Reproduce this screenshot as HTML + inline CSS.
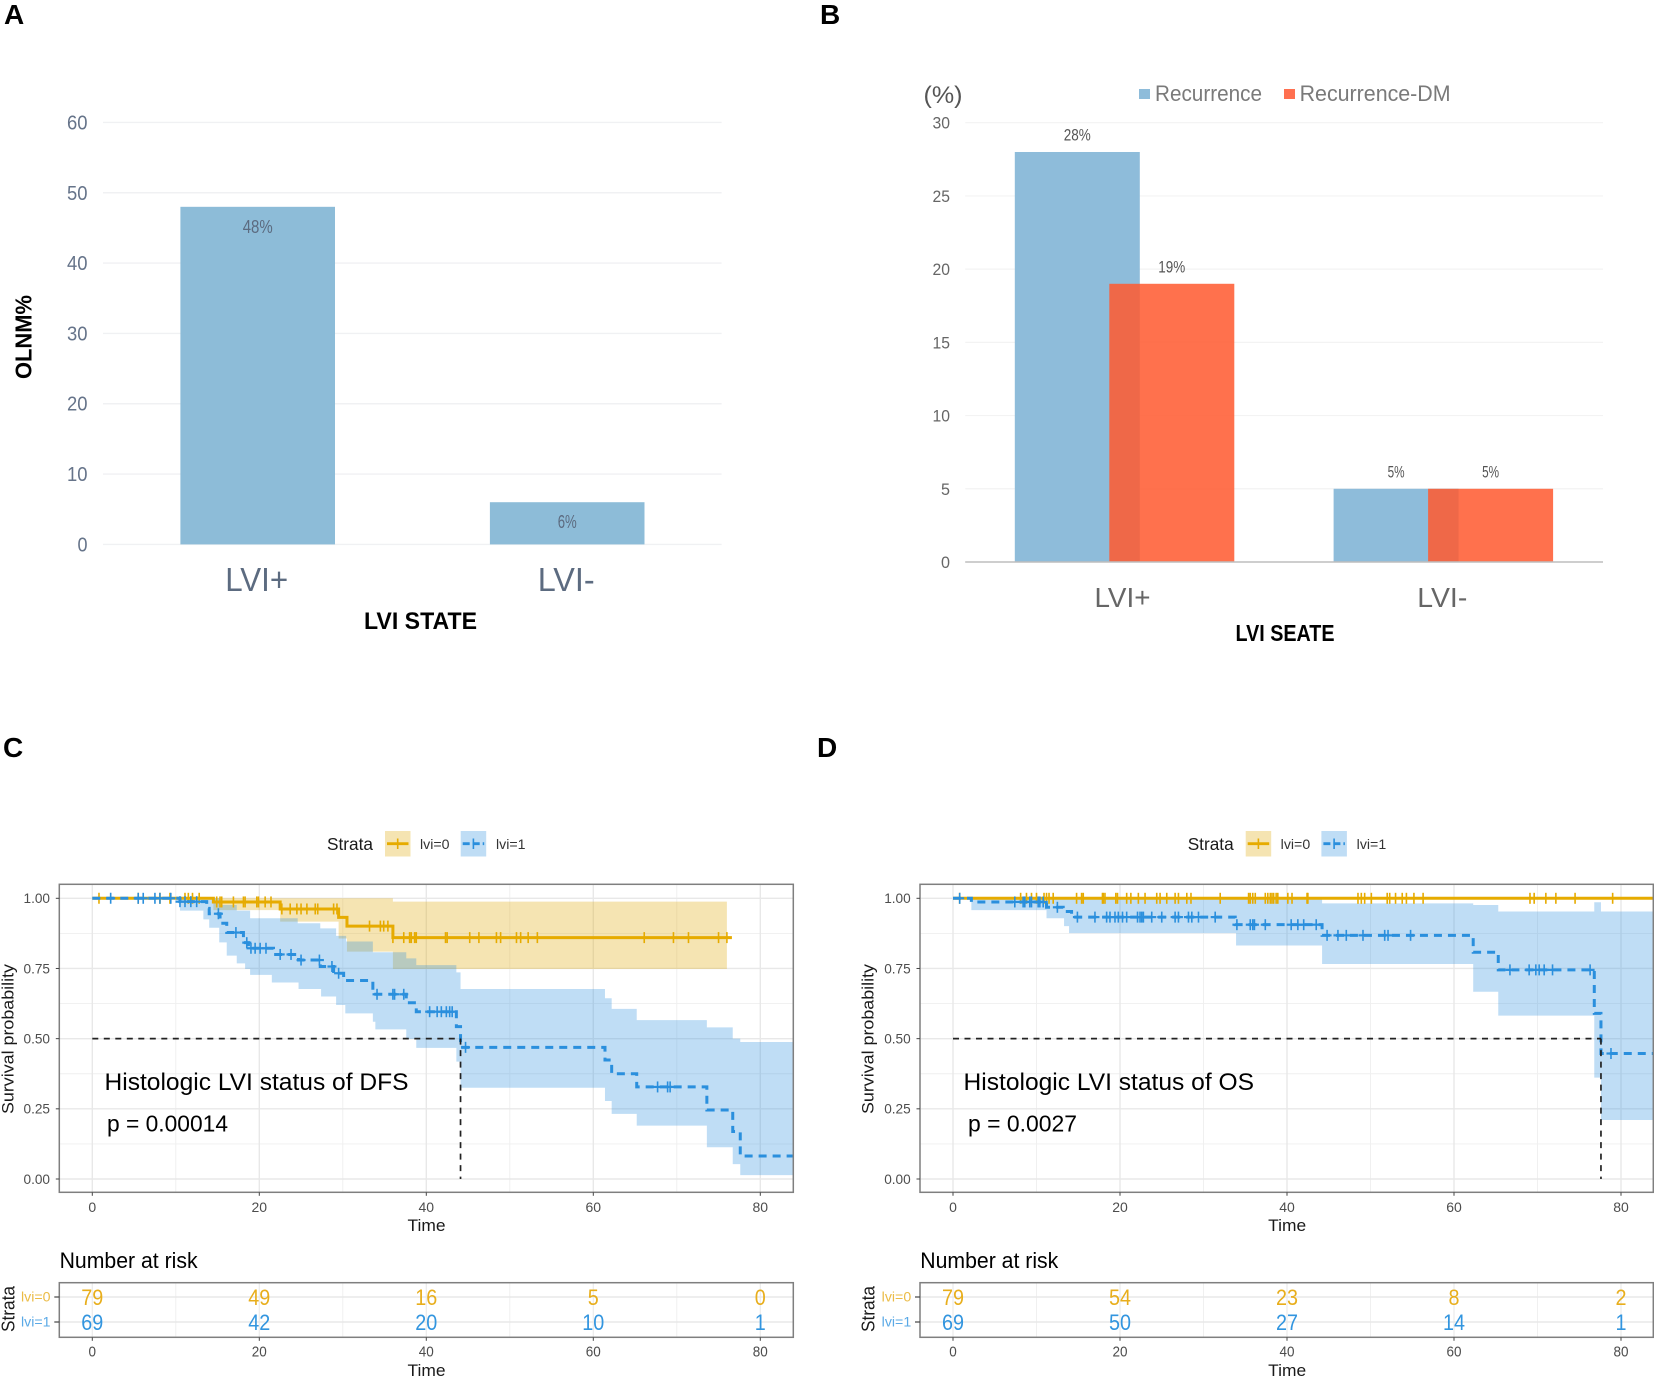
<!DOCTYPE html>
<html lang="en">
<head>
<meta charset="utf-8">
<title>LVI status charts</title>
<style>
html,body{margin:0;padding:0;background:#fff;}
svg{display:block;font-family:"Liberation Sans",Arial,sans-serif;}
</style>
</head>
<body>
<svg id="figure" xmlns="http://www.w3.org/2000/svg" width="1654" height="1377" viewBox="0 0 1654 1377">
<rect width="1654" height="1377" fill="#fff"/>
<defs>
<clipPath id="clip-c"><rect x="59.3" y="884.3" width="734" height="308"/></clipPath>
<clipPath id="clip-d"><rect x="920" y="884.3" width="733.3" height="308"/></clipPath>
</defs>
</svg>
<script>
// ---- Panel A data
const aCategories = ['LVI+', 'LVI-'];
const aValues = [48, 6];
const aTicks = [0, 10, 20, 30, 40, 50, 60];

// ---- Panel B data
const bCategories = ['LVI+', 'LVI-'];
const bRecurrence = [28, 5];
const bRecurrenceDM = [19, 5];
const bTicks = [0, 5, 10, 15, 20, 25, 30];

// ---- Survival axes
const kmTimeTicks = [0, 20, 40, 60, 80];
const kmTimeMinor = [10, 30, 50, 70];
const kmProbTicks = [0, 0.25, 0.5, 0.75, 1];
const kmProbMinor = [0.125, 0.375, 0.625, 0.875];
const riskTimes = [0, 20, 40, 60, 80];

// ---- Panel C (DFS) lvi=0
const cTime0 = [0, 14.5, 22.5, 29.5, 30.5, 36];
const cSurv0 = [1, 0.987, 0.962, 0.932, 0.901, 0.860];
const cEnd0 = 76.6;
const cUpTime0 = [0, 36];
const cUpVal0 = [1, 0.988];
const cLowTime0 = [0, 14.5, 22.5, 29.5, 30.5, 36];
const cLowVal0 = [1, 0.958, 0.917, 0.857, 0.81, 0.748];
const cRibbonEnd0 = 76;
const cCensor0 = [0.8, 5.5, 8.1, 9.3, 11.1, 11.5, 12, 12.8, 14.9, 15.3, 15.5, 16.9, 18.1, 18.3, 19.7, 19.9, 20.7, 21.4, 22.7, 23.7, 24.5, 25, 25.7, 26.7, 27, 28.9, 29.3, 33.2, 34.5, 34.9, 35.4, 36, 37.3, 38, 38.2, 38.6, 38.8, 42.3, 42.5, 45.2, 46.3, 48.4, 48.9, 50.8, 51.3, 52.2, 53.3, 66.1, 69.6, 71.4, 75, 76];

// ---- Panel C (DFS) lvi=1
const cTime1 = [0, 10.5, 13.7, 14, 15.3, 16.1, 18.1, 18.7, 21.7, 24.7, 27.3, 28.9, 30.1, 33.6, 37.6, 38.8, 43.6, 44.1, 61.4, 62.2, 65.2, 73.6, 76.7, 77.6];
const cSurv1 = [1, 0.988, 0.964, 0.945, 0.911, 0.878, 0.842, 0.822, 0.80, 0.78, 0.757, 0.733, 0.707, 0.658, 0.628, 0.596, 0.543, 0.469, 0.424, 0.375, 0.328, 0.246, 0.169, 0.082];
const cUpTime1 = [0, 15.3, 17.3, 18.9, 24.6, 27.3, 29.2, 30.4, 33.6, 37.6, 38.8, 43.6, 44.1, 61.4, 62.2, 65.2, 73.6, 76.7, 77.6];
const cUpVal1 = [1, 0.976, 0.956, 0.929, 0.911, 0.893, 0.866, 0.846, 0.808, 0.786, 0.762, 0.736, 0.677, 0.644, 0.606, 0.566, 0.54, 0.50, 0.488];
const cLowTime1 = [0, 10.5, 13.3, 14, 15.2, 16.1, 17.3, 18.3, 18.9, 21.5, 24.7, 27.4, 29.2, 30.3, 33.6, 33.9, 37.6, 38.8, 43.6, 44.1, 61.4, 62.2, 65.2, 73.6, 76.7, 77.6];
const cLowVal1 = [1, 0.956, 0.925, 0.895, 0.843, 0.796, 0.768, 0.748, 0.727, 0.70, 0.677, 0.65, 0.62, 0.59, 0.56, 0.533, 0.499, 0.467, 0.418, 0.325, 0.278, 0.232, 0.19, 0.113, 0.053, 0.014];
const cCensor1 = [2.2, 5.5, 6.1, 7.5, 8.1, 9.4, 10.5, 11.1, 11.8, 12.5, 15.1, 17.2, 18.5, 19, 19.5, 20.1, 20.8, 22.5, 23.8, 25, 27.2, 28.7, 29.5, 34.1, 36, 36.2, 37.3, 40.4, 41.3, 41.8, 42.4, 42.8, 43.1, 44.7, 67.7, 68.9, 69.2];
const cMedian = 44.1;
const cRisk0 = [79, 49, 16, 5, 0];
const cRisk1 = [69, 42, 20, 10, 1];

// ---- Panel D (OS) lvi=0
const dTime0 = [0];
const dSurv0 = [1];
const dEnd0 = 84;
const dCensor0 = [0.8, 8.1, 8.8, 9.4, 10, 10.9, 11.2, 11.5, 12, 14.8, 15.4, 15.6, 17.9, 18, 18.2, 19.5, 19.7, 20.8, 21.3, 22.2, 23, 24.4, 24.8, 25.6, 26.6, 27, 28, 28.5, 32, 35.4, 35.6, 35.9, 36.2, 37.4, 37.7, 38, 38.2, 38.4, 38.7, 38.9, 40.1, 40.6, 42.4, 42.5, 48.5, 48.9, 49.3, 50.1, 52, 52.3, 53, 53.8, 54.3, 55.2, 56.3, 69.1, 69.6, 71, 72.2, 74.5, 79];

// ---- Panel D (OS) lvi=1
const dTime1 = [0, 2.2, 11.2, 13.2, 14.2, 33.8, 44.2, 62.3, 65.3, 76.8, 77.6];
const dSurv1 = [1, 0.987, 0.968, 0.953, 0.933, 0.906, 0.868, 0.808, 0.745, 0.59, 0.447];
const dUpTime1 = [0, 44.2, 62.3, 65.3, 76.8, 77.6];
const dUpVal1 = [1, 0.982, 0.976, 0.953, 0.986, 0.953];
const dLowTime1 = [0, 2.2, 11.2, 13.3, 13.9, 33.9, 44.2, 62.3, 65.3, 76.8, 77.6];
const dLowVal1 = [1, 0.958, 0.929, 0.901, 0.876, 0.832, 0.766, 0.667, 0.582, 0.361, 0.21];
const dCensor1 = [0.8, 7.4, 8.4, 8.6, 9.2, 9.4, 10.2, 10.4, 10.8, 12.5, 14.9, 17, 18.4, 18.8, 19.4, 19.8, 20.3, 20.8, 22.1, 22.4, 22.6, 22.8, 23.8, 25, 26.6, 27, 28.2, 28.6, 29.4, 31.4, 34, 35.6, 35.9, 36.1, 37.4, 40.5, 41.3, 42, 43.5, 44.8, 46.1, 47.1, 49.1, 51.7, 52.1, 54.8, 66.7, 69, 69.8, 70.2, 70.8, 71.8, 76.3, 78.8];
const dMedian = 77.6;
const dRisk0 = [79, 54, 23, 8, 2];
const dRisk1 = [69, 50, 27, 14, 1];

const NS = 'http://www.w3.org/2000/svg';
const svg = document.getElementById('figure');
const ORANGE = '#E6AB00', BLUE = '#2A8FDD';

function shape(parent, tag, attrs, name) {
  const el = document.createElementNS(NS, tag);
  for (const k in attrs) el.setAttribute(k, attrs[k]);
  
  
  parent.appendChild(el);
  return el;
}
function group(parent, name, extra) {
  return shape(parent, 'g', extra || {}, name);
}
function label(parent, str, x, y, o, name) {
  const attrs = {x: x, y: y, 'font-size': o.size, fill: o.fill || '#000', 'text-anchor': o.anchor || 'middle'};
  if (o.weight) attrs['font-weight'] = o.weight;
  if (o.width) { attrs.textLength = o.width; attrs.lengthAdjust = 'spacingAndGlyphs'; }
  if (o.rotate) attrs.transform = 'rotate(' + o.rotate + ' ' + x + ' ' + y + ')';
  const el = shape(parent, 'text', attrs, name);
  el.textContent = str;
  return el;
}
function hLine(parent, x1, x2, y, stroke, w, name, dash) {
  const a = {x1: x1, x2: x2, y1: y, y2: y, stroke: stroke, 'stroke-width': w};
  if (dash) a['stroke-dasharray'] = dash;
  return shape(parent, 'line', a, name);
}
function vLine(parent, x, y1, y2, stroke, w, name, dash) {
  const a = {x1: x, x2: x, y1: y1, y2: y2, stroke: stroke, 'stroke-width': w};
  if (dash) a['stroke-dasharray'] = dash;
  return shape(parent, 'line', a, name);
}

// Panel letters
label(svg, 'A', 4, 24, {size: 28, weight: 'bold', anchor: 'start'}, 'panel-label-a');
label(svg, 'B', 820, 24, {size: 28, weight: 'bold', anchor: 'start'}, 'panel-label-b');
label(svg, 'C', 3, 757, {size: 28, weight: 'bold', anchor: 'start'}, 'panel-label-c');
label(svg, 'D', 817, 757, {size: 28, weight: 'bold', anchor: 'start'}, 'panel-label-d');

// ===== Panel A =====
(function () {
  const g = group(svg, 'panel-a-bar-chart');
  const yA = v => 544.4 - v * 7.033;
  const band = 309.5, x0 = 103, barW = 154.6;
  const slate = '#5c6b80';
  aTicks.forEach(t => {
    hLine(g, 103, 721.6, yA(t), '#f0f1f3', 1.4, 'y-gridline-' + t);
    label(g, String(t), 87.5, yA(t) + 7, {size: 20, fill: '#66748a', anchor: 'end', width: t === 0 ? 10 : 20.5}, 'y-tick-label-' + t);
  });
  aCategories.forEach((c, i) => {
    const cx = x0 + 154.7 + i * band;
    shape(g, 'rect', {x: cx - barW / 2, y: yA(aValues[i]), width: barW, height: yA(0) - yA(aValues[i]), fill: '#8dbcd8'}, 'bar-' + (i === 0 ? 'lvi-positive' : 'lvi-negative'));
    label(g, aValues[i] + '%', cx, yA(aValues[i]) + 26, {size: 18, fill: slate, width: i === 0 ? 30 : 19}, 'bar-value-label-' + i);
    label(g, c, cx - 1, 591, {size: 33, fill: slate, width: i === 0 ? 63 : 57}, 'x-category-label-' + i);
  });
  label(g, 'LVI STATE', 420.5, 629, {size: 24, weight: 'bold', width: 113}, 'x-axis-title');
  label(g, 'OLNM%', 31.5, 337, {size: 23, weight: 'bold', width: 84, rotate: -90}, 'y-axis-title');
})();

// ===== Panel B =====
(function () {
  const g = group(svg, 'panel-b-bar-chart');
  const yB = v => 562 - v * 14.643;
  const barW = 125, centers = [1124.5, 1443.3];
  bTicks.forEach(t => {
    if (t > 0) hLine(g, 965.2, 1603, yB(t), '#f3f3f3', 1.2, 'y-gridline-' + t);
    label(g, String(t), 950, yB(t) + 6, {size: 17, fill: '#666', anchor: 'end', width: t < 10 ? 9 : 17.5}, 'y-tick-label-' + t);
  });
  bCategories.forEach((c, i) => {
    const cx = centers[i];
    const b1 = cx - 109.7, b2 = cx - 15.2;
    shape(g, 'rect', {x: b1, y: yB(bRecurrence[i]), width: barW, height: yB(0) - yB(bRecurrence[i]), fill: '#8ebcda'}, 'bar-recurrence-' + i);
    shape(g, 'rect', {x: b2, y: yB(bRecurrenceDM[i]), width: barW, height: yB(0) - yB(bRecurrenceDM[i]), fill: '#ff5a30', opacity: 0.86}, 'bar-recurrence-dm-' + i);
    label(g, bRecurrence[i] + '%', b1 + barW / 2, yB(bRecurrence[i]) - 11.5, {size: 16.5, fill: '#555', width: bRecurrence[i] < 10 ? 17 : 27}, 'value-label-recurrence-' + i);
    label(g, bRecurrenceDM[i] + '%', b2 + barW / 2, yB(bRecurrenceDM[i]) - 11.5, {size: 16.5, fill: '#555', width: bRecurrenceDM[i] < 10 ? 17 : 27}, 'value-label-recurrence-dm-' + i);
    label(g, c, cx - (i === 0 ? 2 : 1), 607, {size: 28, fill: '#666', width: i === 0 ? 56 : 50}, 'x-category-label-' + i);
  });
  hLine(g, 965.2, 1603, yB(0), '#bdbdbd', 1.5, 'x-axis-line');
  label(g, 'LVI SEATE', 1285, 641, {size: 23, weight: 'bold', width: 99}, 'x-axis-title');
  label(g, '(%)', 943, 103, {size: 24, fill: '#555', width: 39}, 'y-axis-unit');
  const lg = group(g, 'legend');
  shape(lg, 'rect', {x: 1139, y: 89, width: 11, height: 10, fill: '#8ebcda'}, 'legend-swatch-recurrence');
  label(lg, 'Recurrence', 1155, 101, {size: 22, fill: '#7a7a7a', anchor: 'start', width: 107}, 'legend-label-recurrence');
  shape(lg, 'rect', {x: 1284, y: 89, width: 11, height: 10, fill: '#ff7050'}, 'legend-swatch-recurrence-dm');
  label(lg, 'Recurrence-DM', 1299.6, 101, {size: 22, fill: '#7a7a7a', anchor: 'start', width: 151}, 'legend-label-recurrence-dm');
})();

// ===== Survival panels =====
function stepPath(times, vals, end, xs, ys) {
  let d = 'M' + xs(times[0]) + ' ' + ys(vals[0]);
  for (let i = 1; i < times.length; i++) {
    d += 'H' + xs(times[i]) + 'V' + ys(vals[i]);
  }
  return d + 'H' + xs(end);
}
function ribbonPath(upT, upV, lowT, lowV, end, xs, ys) {
  let d = stepPath(upT, upV, end, xs, ys);
  d += 'V' + ys(lowV[lowV.length - 1]);
  for (let i = lowT.length - 1; i > 0; i--) {
    d += 'H' + xs(lowT[i]) + 'V' + ys(lowV[i - 1]);
  }
  return d + 'H' + xs(lowT[0]) + 'Z';
}
function stepValue(times, vals, t) {
  let v = vals[0];
  for (let i = 0; i < times.length; i++) { if (times[i] <= t) v = vals[i]; }
  return v;
}
function drawSurvival(cfg) {
  const ox = cfg.ox;
  const xs = t => ox + 92.3 + t * 8.35;
  const ys = s => 1179 - s * 280.7;
  const left = ox + 59.3, right = cfg.right, top = 884.3, bottom = 1192.3;
  const g = group(svg, cfg.name);

  // Legend
  const lg = group(g, 'legend');
  label(lg, 'Strata', ox + 327, 850, {size: 17.5, fill: '#1a1a1a', anchor: 'start', width: 46}, 'legend-title');
  const keyX = [ox + 385, ox + 460.7], keyCol = [ORANGE, BLUE], keyFill = ['#DDA500', '#2A8FDD'], keyTxt = ['lvi=0', 'lvi=1'], keyLab = [ox + 420, ox + 496];
  keyX.forEach((kx, i) => {
    shape(lg, 'rect', {x: kx, y: 831, width: 25.5, height: 25.5, fill: keyFill[i], 'fill-opacity': 0.3}, 'legend-key-' + i);
    hLine(lg, kx + 2, kx + 23.5, 843.7, keyCol[i], 2.8, 'legend-key-line-' + i, i ? '7 3' : '');
    vLine(lg, kx + 12.7, 838.5, 849, keyCol[i], 1.6, 'legend-key-censor-' + i);
    label(lg, keyTxt[i], keyLab[i], 848.8, {size: 13.5, fill: '#333', anchor: 'start', width: 29.5}, 'legend-label-' + i);
  });

  // Grid
  shape(g, 'rect', {x: left, y: top, width: right - left, height: bottom - top, fill: '#fff'}, 'plot-background');
  const grid = group(g, 'grid');
  kmTimeMinor.forEach(t => vLine(grid, xs(t), top, bottom, '#efefef', 0.9, 'x-minor-gridline-' + t));
  kmProbMinor.forEach(p => hLine(grid, left, right, ys(p), '#efefef', 0.9, 'y-minor-gridline-' + p));
  kmTimeTicks.forEach(t => vLine(grid, xs(t), top, bottom, '#e8e8e8', 1.4, 'x-gridline-' + t));
  kmProbTicks.forEach(p => hLine(grid, left, right, ys(p), '#e8e8e8', 1.4, 'y-gridline-' + p));

  // Data
  const data = group(g, 'survival-curves', {'clip-path': 'url(#' + cfg.clip + ')'});
  if (cfg.upT0) {
    shape(data, 'path', {d: ribbonPath(cfg.upT0, cfg.upV0, cfg.lowT0, cfg.lowV0, cfg.ribbonEnd0, xs, ys), fill: '#DDA500', 'fill-opacity': 0.3}, 'confidence-band-lvi-0');
  }
  shape(data, 'path', {d: ribbonPath(cfg.upT1, cfg.upV1, cfg.lowT1, cfg.lowV1, 84, xs, ys), fill: '#2A8FDD', 'fill-opacity': 0.3}, 'confidence-band-lvi-1');
  shape(data, 'path', {d: stepPath(cfg.t0, cfg.s0, cfg.end0, xs, ys), fill: 'none', stroke: ORANGE, 'stroke-width': 3}, 'survival-line-lvi-0');
  cfg.c0.forEach(t => {
    const y = ys(stepValue(cfg.t0, cfg.s0, t));
    vLine(data, xs(t), y - 5.5, y + 5.5, ORANGE, 1.6, 'censor-mark-lvi-0');
  });
  shape(data, 'path', {d: stepPath(cfg.t1, cfg.s1, 84, xs, ys), fill: 'none', stroke: BLUE, 'stroke-width': 3, 'stroke-dasharray': '8 6'}, 'survival-line-lvi-1');
  cfg.c1.forEach(t => {
    const y = ys(stepValue(cfg.t1, cfg.s1, t));
    vLine(data, xs(t), y - 5.5, y + 5.5, BLUE, 1.6, 'censor-mark-lvi-1');
    hLine(data, xs(t) - 4.5, xs(t) + 4.5, y, BLUE, 2.2, 'censor-bar-lvi-1');
  });
  hLine(data, xs(0), xs(cfg.median), ys(0.5), '#222', 1.7, 'median-horizontal-line', '6 5.5');
  vLine(data, xs(cfg.median), ys(0.5), ys(0), '#222', 1.7, 'median-vertical-line', '6 5.5');

  shape(g, 'rect', {x: left, y: top, width: right - left, height: bottom - top, fill: 'none', stroke: '#7f7f7f', 'stroke-width': 1.5}, 'plot-border');

  // Axes
  kmProbTicks.forEach(p => {
    hLine(g, left - 3.5, left, ys(p), '#444', 1, 'y-tick-' + p);
    label(g, p.toFixed(2), ox + 50, ys(p) + 4.8, {size: 14, fill: '#4d4d4d', anchor: 'end', width: 26.5}, 'y-tick-label-' + p);
  });
  kmTimeTicks.forEach(t => {
    vLine(g, xs(t), bottom, bottom + 3.5, '#444', 1, 'x-tick-' + t);
    label(g, String(t), xs(t), 1212, {size: 14, fill: '#4d4d4d'}, 'x-tick-label-' + t);
  });
  label(g, 'Time', ox + 426.5, 1231, {size: 17, fill: '#1a1a1a', width: 38}, 'x-axis-title');
  label(g, 'Survival probability', cfg.yTitleX, 1039, {size: 17, fill: '#1a1a1a', width: 150, rotate: -90}, 'y-axis-title');

  // Annotations
  label(g, cfg.title, cfg.titleX, 1090, {size: 24, fill: '#000', anchor: 'start', width: cfg.titleW}, 'chart-annotation-title');
  label(g, cfg.pText, cfg.pX, 1131.5, {size: 23, fill: '#000', anchor: 'start', width: cfg.pW}, 'p-value-annotation');

  // Risk table
  const rt = group(g, 'risk-table');
  const rTop = 1282.7, rBottom = 1337.3, rowY = [1297, 1322];
  label(rt, 'Number at risk', ox + 59.6, 1268, {size: 22, fill: '#000', anchor: 'start', width: 138}, 'risk-table-title');
  shape(rt, 'rect', {x: left, y: rTop, width: right - left, height: rBottom - rTop, fill: '#fff'}, 'risk-table-background');
  kmTimeMinor.forEach(t => vLine(rt, xs(t), rTop, rBottom, '#efefef', 0.9, 'risk-minor-gridline-' + t));
  kmTimeTicks.forEach(t => vLine(rt, xs(t), rTop, rBottom, '#ebebeb', 1.2, 'risk-gridline-' + t));
  rowY.forEach((y, i) => hLine(rt, left, right, y, '#e8e8e8', 1.4, 'risk-row-gridline-' + i));
  shape(rt, 'rect', {x: left, y: rTop, width: right - left, height: rBottom - rTop, fill: 'none', stroke: '#7f7f7f', 'stroke-width': 1.5}, 'risk-table-border');
  const rowCounts = [cfg.r0, cfg.r1], rowCol = ['#E8AE1C', '#3295DF'], rowLab = ['lvi=0', 'lvi=1'];
  rowY.forEach((y, i) => {
    hLine(rt, left - 5, left, y, '#444', 1.2, 'risk-row-tick-' + i);
    label(rt, rowLab[i], ox + 50.5, y + 4.5, {size: 13.5, fill: i ? '#5aa9e6' : '#EBBB45', anchor: 'end', width: 29.5}, 'risk-row-label-' + i);
    rowCounts[i].forEach((n, j) => {
      label(rt, String(n), xs(riskTimes[j]), y + 7.8, {size: 22, fill: rowCol[i], width: n < 10 ? 11 : 22}, 'risk-count-' + i + '-' + riskTimes[j]);
    });
  });
  kmTimeTicks.forEach(t => {
    vLine(rt, xs(t), rBottom, rBottom + 3.5, '#444', 1, 'risk-x-tick-' + t);
    label(rt, String(t), xs(t), 1356.3, {size: 15, fill: '#4d4d4d', width: t === 0 ? 7.5 : 15}, 'risk-x-tick-label-' + t);
  });
  label(rt, 'Time', ox + 426.5, 1376, {size: 17, fill: '#1a1a1a', width: 38}, 'risk-x-axis-title');
  label(rt, 'Strata', cfg.yTitleX + 1, 1309, {size: 18, fill: '#1a1a1a', width: 46, rotate: -90}, 'risk-y-axis-title');
}

drawSurvival({
  name: 'panel-c-dfs-survival', ox: 0, right: 793.3, clip: 'clip-c',
  t0: cTime0, s0: cSurv0, end0: cEnd0, c0: cCensor0,
  upT0: cUpTime0, upV0: cUpVal0, lowT0: cLowTime0, lowV0: cLowVal0, ribbonEnd0: cRibbonEnd0,
  t1: cTime1, s1: cSurv1, c1: cCensor1,
  upT1: cUpTime1, upV1: cUpVal1, lowT1: cLowTime1, lowV1: cLowVal1,
  median: cMedian, r0: cRisk0, r1: cRisk1,
  title: 'Histologic LVI status of DFS', titleX: 104.5, titleW: 304,
  pText: 'p = 0.00014', pX: 107, pW: 121, yTitleX: 13.5
});
drawSurvival({
  name: 'panel-d-os-survival', ox: 860.7, right: 1653.3, clip: 'clip-d',
  t0: dTime0, s0: dSurv0, end0: dEnd0, c0: dCensor0,
  t1: dTime1, s1: dSurv1, c1: dCensor1,
  upT1: dUpTime1, upV1: dUpVal1, lowT1: dLowTime1, lowV1: dLowVal1,
  median: dMedian, r0: dRisk0, r1: dRisk1,
  title: 'Histologic LVI status of OS', titleX: 963.5, titleW: 290.5,
  pText: 'p = 0.0027', pX: 968, pW: 109, yTitleX: 873.5
});
</script>
</body>
</html>
